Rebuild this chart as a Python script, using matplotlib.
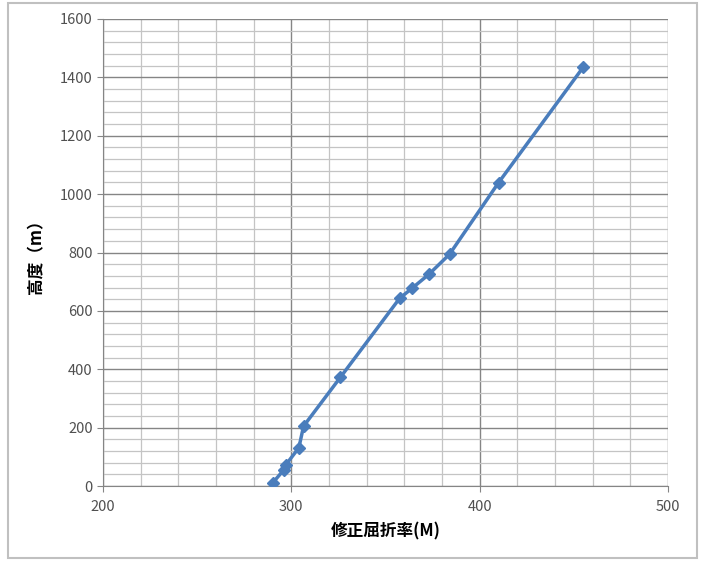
import matplotlib
matplotlib.use('Agg')
import matplotlib.pyplot as plt
from matplotlib.patches import Rectangle
from matplotlib.ticker import MultipleLocator

plt.rcParams['font.family'] = ['Noto Sans CJK JP', 'DejaVu Sans']

# modified refractivity M vs height (m)
m_values = [290, 296, 297, 304, 306.5, 326, 357.5, 364, 373, 384, 410, 455]
heights = [10, 55, 72, 131, 205, 372, 643, 677, 725, 794, 1039, 1435]

fig = plt.figure(figsize=(7.03, 5.61), dpi=100)
ax = fig.add_axes([103/703, 1-486/561, (668-103)/703, (486-19)/561])

ax.plot(m_values, heights, '-D', color='#4a7dbc', lw=2.5, ms=6, zorder=3)

ax.set_xlim(200, 500)
ax.set_ylim(0, 1600)
ax.xaxis.set_major_locator(MultipleLocator(100))
ax.xaxis.set_minor_locator(MultipleLocator(20))
ax.yaxis.set_major_locator(MultipleLocator(200))
ax.yaxis.set_minor_locator(MultipleLocator(40))
ax.grid(which='major', color='#858585', lw=1.0)
ax.grid(which='minor', color='#c4c4c4', lw=0.9)
ax.set_axisbelow(True)

for s in ['top', 'right']:
    ax.spines[s].set_visible(False)
for s in ['left', 'bottom']:
    ax.spines[s].set_color('#858585')
ax.tick_params(which='major', length=4, color='#858585', labelsize=10.5, labelcolor='#505050')
ax.tick_params(which='minor', length=0)
ax.tick_params(axis='x', pad=6)

ax.set_xlabel('修正屈折率(M)', fontsize=12, fontweight='bold', labelpad=6)
ax.set_ylabel('高度（m）', fontsize=12, fontweight='bold', labelpad=10)

fig.patches.append(Rectangle((8/703, 3/561), (697-8)/703, (558-3)/561,
                             transform=fig.transFigure, fill=False,
                             edgecolor='#c0c0c0', lw=1.5))

fig.savefig('out.png', dpi=100)
